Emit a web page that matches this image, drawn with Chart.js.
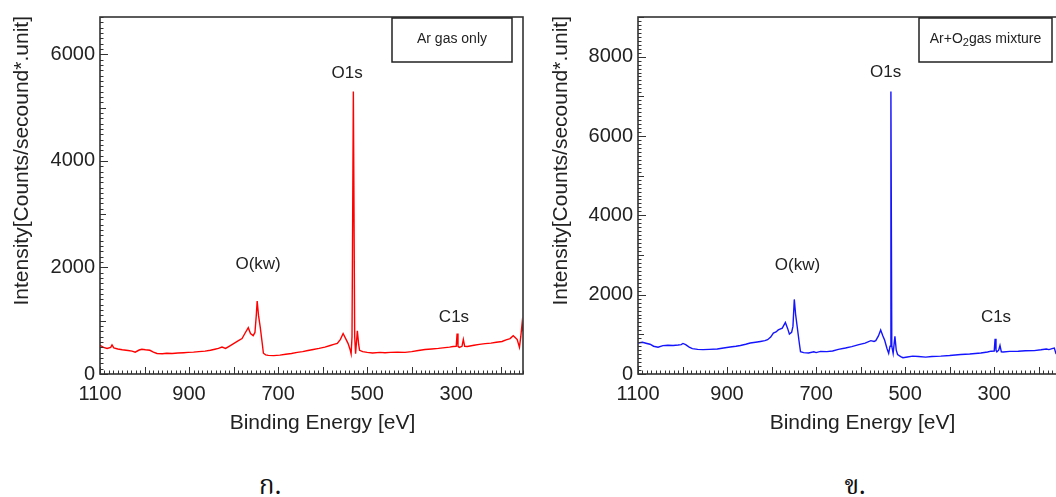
<!DOCTYPE html>
<html>
<head>
<meta charset="utf-8">
<script src="https://cdn.jsdelivr.net/npm/chart.js@4.4.1/dist/chart.umd.min.js"></script>
<style>
  html, body { margin: 0; padding: 0; background: #fff; overflow: hidden; }
  body { width: 1056px; height: 497px; position: relative; }
  .panel { position: absolute; top: 0; height: 450px; }
  #wrapA { left: 0; width: 530px; }
  #wrapB { left: 530px; width: 540px; }
  .cap { position: absolute; top: 466px; transform: translateX(-50%);
         font-family: "Noto Serif Thai", "Noto Sans Thai", "Tlwg Typo", serif;
         font-size: 26px; color: #111; }
</style>
</head>
<body>
<div class="panel" id="wrapA"><canvas id="chartA"></canvas></div>
<div class="panel" id="wrapB"><canvas id="chartB"></canvas></div>
<div class="cap" style="left:270px">ก.</div>
<div class="cap" style="left:855px">ข.</div>
<script>
// tick labels
const xTicks = [1100, 900, 700, 500, 300];
const yTicksA = [0, 2000, 4000, 6000];
const yTicksB = [0, 2000, 4000, 6000, 8000];

// survey spectrum, Ar only
const energyA = [1100, 1092, 1084, 1076, 1073, 1069, 1060, 1050, 1037, 1028, 1021, 1012, 1006, 998, 988, 980, 972, 960, 950, 938,
  925, 912, 902, 890, 878, 864, 852, 842, 834, 826, 818, 810, 800, 790, 781, 774, 767, 762, 756, 752,
  749, 747, 744, 740, 736, 733, 728, 722, 710, 696, 683, 670, 657, 645, 633, 621, 608, 595, 583, 575,
  567, 560, 554, 548, 543, 538, 536, 534, 531, 528, 526, 522, 519, 517, 510, 500, 488, 471, 460, 448,
  432, 415, 400, 385, 370, 355, 340, 325, 315, 307, 300, 298, 296, 293, 287, 284, 281, 275, 260, 248,
  235, 222, 210, 197, 188, 179, 172, 167, 163, 158, 155, 152, 150];
const countsA = [540, 500, 480, 500, 545, 490, 470, 455, 440, 430, 410, 450, 465, 455, 445, 410, 385, 380, 390, 385,
  395, 400, 405, 410, 420, 430, 445, 465, 480, 505, 480, 520, 570, 620, 665, 770, 870, 760, 720, 780,
  1100, 1370, 1100, 870, 600, 390, 360, 350, 345, 355, 370, 385, 405, 420, 440, 460, 480, 505, 535, 555,
  575, 650, 760, 660, 575, 450, 380, 700, 5300, 700, 380, 810, 550, 445, 420, 405, 395, 405, 400, 405,
  410, 405, 420, 440, 460, 470, 480, 495, 505, 515, 520, 760, 520, 500, 520, 650, 520, 515, 540, 555,
  570, 580, 595, 610, 640, 665, 720, 680, 645, 500, 700, 950, 800];

// survey spectrum, Ar + O2
const energyB = [1100, 1090, 1080, 1073, 1065, 1055, 1044, 1033, 1021, 1010, 1003, 999, 993, 985, 978, 966, 954, 940, 922, 908,
  893, 880, 870, 858, 848, 836, 825, 815, 809, 802, 796, 790, 785, 776, 769, 764, 760, 755, 752, 749,
  746, 742, 738, 735, 728, 717, 705, 700, 690, 676, 663, 650, 634, 620, 604, 590, 577, 570, 566, 560,
  555, 550, 546, 541, 537, 534, 532, 530, 527, 523, 520, 517, 510, 505, 495, 483, 470, 454, 440, 420,
  400, 375, 355, 330, 315, 307, 300, 298, 296, 294, 290, 287, 284, 280, 265, 246, 230, 210, 195, 183,
  177, 170, 165, 161];
const countsB = [780, 800, 770, 750, 700, 675, 715, 725, 720, 730, 740, 770, 740, 680, 640, 620, 615, 620, 630, 655,
  680, 700, 720, 750, 780, 800, 820, 840, 865, 930, 1030, 1060, 1110, 1155, 1300, 1150, 1005, 1050, 1200, 1880,
  1500, 1150, 800, 560, 540, 530, 560, 540, 570, 565, 580, 620, 655, 690, 740, 780, 840, 820, 840, 960,
  1110, 960, 850, 650, 520, 700, 7120, 700, 520, 950, 600, 490, 440, 410, 430, 450, 440, 425, 440, 450,
  465, 490, 505, 530, 555, 575, 580, 890, 600, 560, 600, 720, 560, 555, 570, 575, 585, 590, 610, 630,
  615, 640, 655, 500];

const textFont = '"Liberation Sans", Arial, sans-serif';

// frame, inward ticks, axis titles, peak names and the gas box
const spectrumFrame = {
  id: 'spectrumFrame',
  afterDatasetsDraw(chart, args, o) {
    const { ctx, chartArea: a, scales: { x, y } } = chart;
    ctx.save();
    ctx.strokeStyle = '#333';
    ctx.lineWidth = 1;
    ctx.beginPath();
    for (let v = 150; v <= 1100; v += 10) {
      const px = Math.round(x.getPixelForValue(v)) + 0.5;
      const len = v % 100 === 0 ? 7 : 3.5;
      ctx.moveTo(px, a.bottom);
      ctx.lineTo(px, a.bottom - len);
    }
    for (let v = 0; v <= y.max; v += 100) {
      const py = Math.round(y.getPixelForValue(v)) + 0.5;
      const len = v % 2000 === 0 ? 8 : (v % 1000 === 0 ? 6 : 3.5);
      ctx.moveTo(a.left, py);
      ctx.lineTo(a.left + len, py);
    }
    ctx.stroke();

    ctx.lineWidth = 1.6;
    ctx.strokeRect(a.left, a.top, a.right - a.left, a.bottom - a.top);

    ctx.fillStyle = '#222';
    ctx.textAlign = 'center';
    ctx.textBaseline = 'middle';
    ctx.font = '17px ' + textFont;
    o.peaks.forEach(p => {
      ctx.fillText(p.text, x.getPixelForValue(p.x), y.getPixelForValue(p.y));
    });

    ctx.font = '21px ' + textFont;
    ctx.fillText('Binding Energy [eV]', (a.left + a.right) / 2 + o.xTitleShift, 423);
    ctx.save();
    ctx.translate(o.yTitleX, a.top - 1);
    ctx.rotate(-Math.PI / 2);
    ctx.textAlign = 'right';
    ctx.fillText('Intensity[Counts/secound*.unit]', 0, 0);
    ctx.restore();

    const bx = a.right - o.box.right - o.box.w;
    ctx.lineWidth = 1.5;
    ctx.strokeStyle = '#222';
    ctx.strokeRect(bx, 18, o.box.w, 44);
    ctx.font = '14px ' + textFont;
    const cx = bx + o.box.w / 2;
    if (o.box.sub) {
      const parts = [['Ar+O', 14, 0], ['2', 11, 4], ['gas mixture', 14, 0]];
      let total = 0;
      parts.forEach(p => { ctx.font = p[1] + 'px ' + textFont; total += ctx.measureText(p[0]).width; });
      let tx = cx - total / 2;
      ctx.textAlign = 'left';
      parts.forEach(p => {
        ctx.font = p[1] + 'px ' + textFont;
        ctx.fillText(p[0], tx, 39 + p[2]);
        tx += ctx.measureText(p[0]).width;
      });
    } else {
      ctx.fillText(o.box.text, cx, 39);
    }
    ctx.restore();
  }
};

function makeChart(id, energy, counts, color, yMax, yTicks, yWidth, padRight, frameOpts) {
  const points = energy.map((e, i) => ({ x: e, y: counts[i] }));
  return new Chart(document.getElementById(id).getContext('2d'), {
    type: 'line',
    data: {
      datasets: [{
        data: points,
        borderColor: color,
        borderWidth: 1.4,
        pointRadius: 0,
        tension: 0,
        fill: false
      }]
    },
    options: {
      responsive: true,
      maintainAspectRatio: false,
      animation: false,
      layout: { padding: { top: 13, right: padRight, left: 0, bottom: 0 } },
      plugins: { legend: { display: false }, tooltip: { enabled: false }, spectrumFrame: frameOpts },
      scales: {
        x: {
          type: 'linear',
          reverse: true,
          min: 150,
          max: 1100,
          grid: { display: false, drawTicks: false },
          border: { display: false },
          ticks: { color: '#222', font: { family: textFont, size: 20 }, padding: 8, maxRotation: 0, autoSkip: false,
                   callback: v => String(v) },
          afterBuildTicks: s => { s.ticks = xTicks.map(v => ({ value: v })); },
          afterFit: s => { s.height = 76; }
        },
        y: {
          min: 0,
          max: yMax,
          grid: { display: false, drawTicks: false },
          border: { display: false },
          ticks: { color: '#222', font: { family: textFont, size: 20 }, padding: 5, callback: v => String(v) },
          afterBuildTicks: s => { s.ticks = yTicks.map(v => ({ value: v })); },
          afterFit: s => { s.width = yWidth; }
        }
      }
    },
    plugins: [spectrumFrame]
  });
}

makeChart('chartA', energyA, countsA, 'rgb(255, 0, 0)', 6700, yTicksA, 100, 7, {
  peaks: [{ text: 'O1s', x: 545, y: 5650 }, { text: 'O(kw)', x: 745, y: 2050 }, { text: 'C1s', x: 305, y: 1071 }],
  box: { w: 120, right: 11, text: 'Ar gas only' },
  xTitleShift: 11,
  yTitleX: 22
});

makeChart('chartB', energyB, countsB, 'rgb(20, 20, 255)', 9000, yTicksB, 108, 9, {
  peaks: [{ text: 'O1s', x: 544, y: 7595 }, { text: 'O(kw)', x: 742, y: 2739 }, { text: 'C1s', x: 296, y: 1419 }],
  box: { w: 133, right: 9, sub: true },
  xTitleShift: 13,
  yTitleX: 31
});
</script>
</body>
</html>
